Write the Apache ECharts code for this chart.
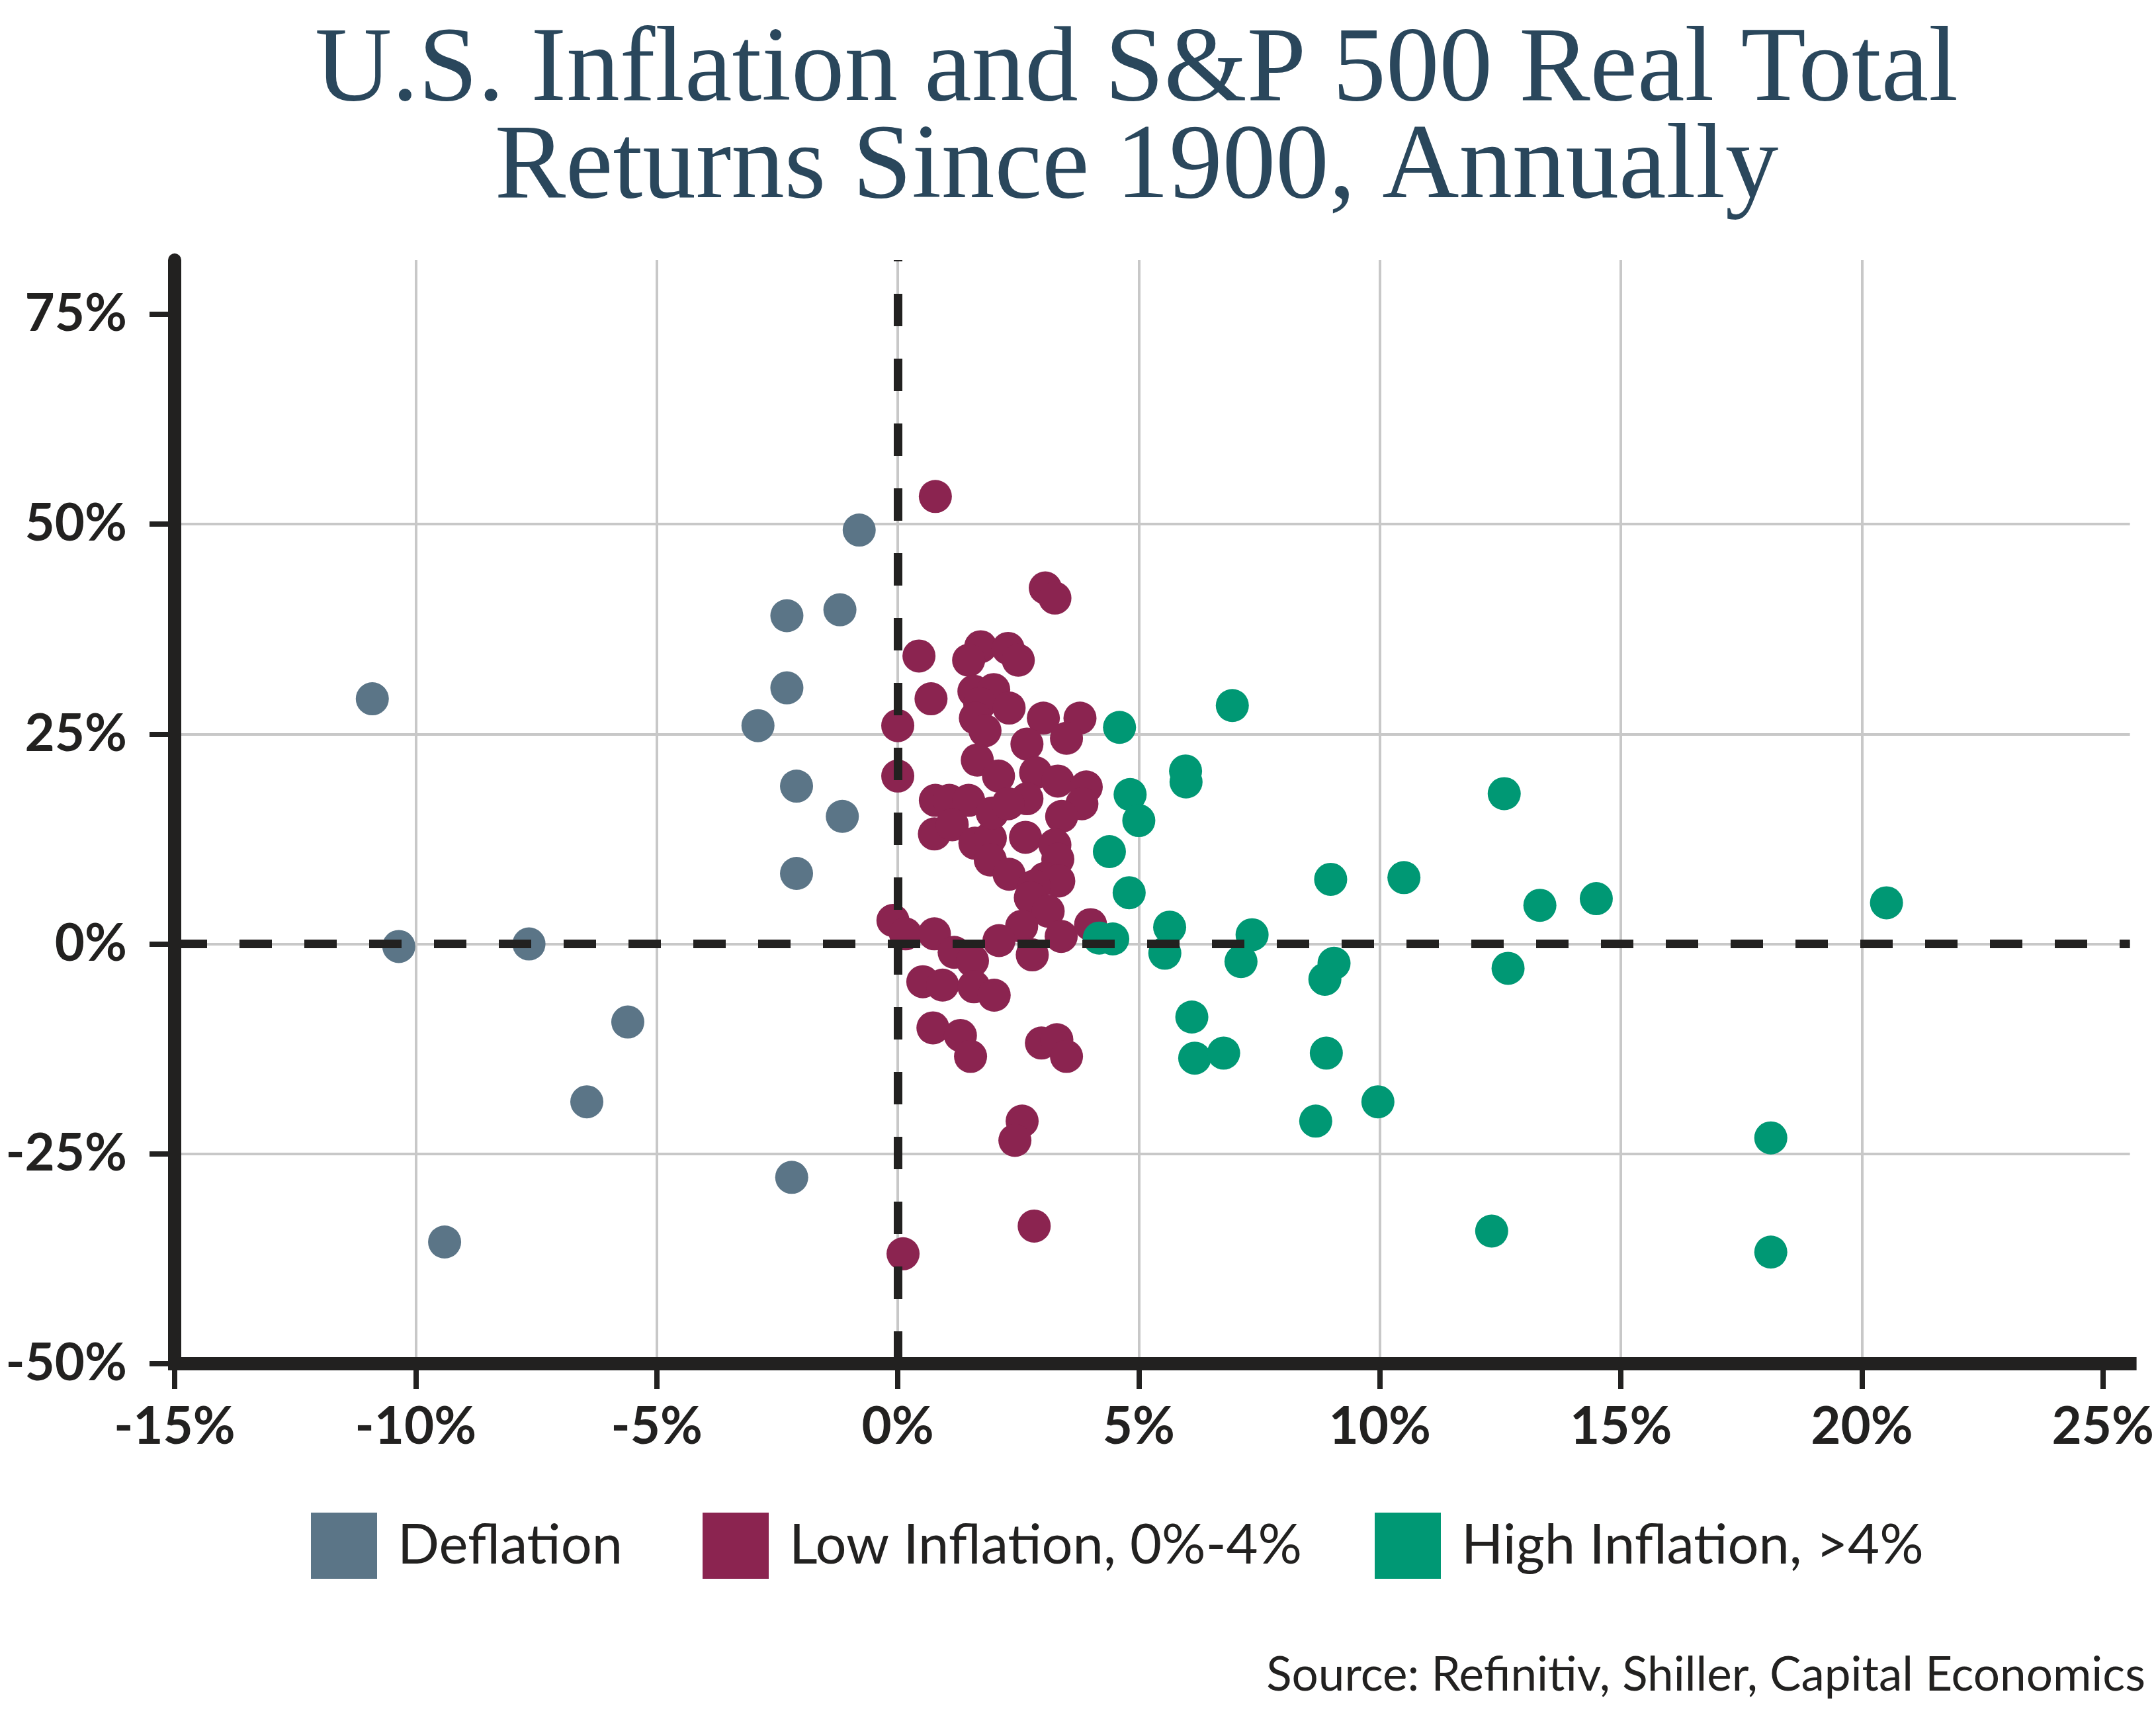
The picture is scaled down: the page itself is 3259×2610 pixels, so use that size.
<!DOCTYPE html>
<html lang="en">
<head>
<meta charset="utf-8" />
<title>U.S. Inflation and S&amp;P 500 Real Total Returns</title>
<script src="https://cdn.jsdelivr.net/npm/echarts@6/dist/echarts.min.js"></script>
<style>
  html, body { margin: 0; padding: 0; background: #ffffff; }
  #chart { width: 3259px; height: 2610px; }
</style>
</head>
<body>
<div id="chart"></div>
<script type="text/javascript">
// [inflation %, S&P 500 real total return %]
var deflation = [
  [-10.9, 29.2], [-10.35, -0.3], [-9.4, -35.5], [-7.65, 0.0], [-5.6, -9.3],
  [-6.45, -18.8], [-2.9, 26.0], [-2.3, 39.1], [-2.3, 30.5], [-2.1, 18.8],
  [-2.1, 8.4], [-2.2, -27.8], [-1.2, 39.8], [-1.15, 15.2], [-0.8, 49.3]
];
var lowInflation = [
  [0.78, 53.3], [3.06, 42.4], [3.26, 41.2], [0.44, 34.3], [1.72, 35.4],
  [1.47, 33.8], [2.29, 35.2], [2.5, 33.8], [0.69, 29.2], [1.58, 30.1],
  [1.99, 30.3], [1.7, 28.6], [2.31, 28.1], [1.61, 26.9], [1.81, 25.4],
  [3.02, 26.9], [3.78, 26.9], [3.5, 24.5], [0.0, 26.0], [2.68, 23.8],
  [1.65, 21.9], [2.09, 20.0], [2.86, 20.4], [3.32, 19.4], [3.91, 18.7],
  [3.82, 16.7], [3.4, 15.2], [0.0, 20.0], [0.78, 17.1], [1.07, 17.1],
  [1.47, 17.1], [0.76, 13.1], [1.13, 14.2], [1.6, 12.0], [1.92, 12.6],
  [1.92, 10.0], [1.96, 15.6], [2.68, 17.3], [2.29, 16.7], [2.65, 12.7],
  [3.26, 11.8], [3.32, 10.1], [2.31, 8.3], [3.05, 7.8], [3.34, 7.5],
  [2.83, 6.9], [2.75, 5.5], [3.12, 3.9], [2.57, 2.1], [2.1, 0.4],
  [2.79, -1.3], [3.39, 0.9], [4.0, 2.3], [-0.1, 2.8], [0.16, 1.2],
  [0.76, 1.2], [1.17, -1.0], [1.55, -2.0], [0.52, -4.5], [0.93, -4.9],
  [1.58, -5.1], [2.0, -6.1], [0.73, -10.0], [1.3, -10.9], [1.51, -13.4],
  [2.98, -11.8], [3.3, -11.4], [3.5, -13.4], [2.58, -21.1], [2.43, -23.4],
  [2.83, -33.6], [0.11, -36.9]
];
var highInflation = [
  [6.94, 28.4], [4.6, 25.8], [5.97, 20.6], [5.98, 19.3], [4.82, 17.8],
  [5.0, 14.7], [4.39, 11.0], [4.8, 6.1], [5.64, 2.0], [5.54, -1.1],
  [4.18, 0.7], [4.46, 0.6], [7.35, 1.1], [7.12, -2.1], [6.1, -8.7],
  [6.16, -13.6], [6.76, -13.0], [8.98, 7.7], [9.05, -2.3], [8.86, -4.2],
  [8.89, -13.0], [10.5, 7.9], [12.58, 17.9], [13.32, 4.6], [14.49, 5.4],
  [20.51, 4.9], [12.66, -2.9], [9.96, -18.8], [8.67, -21.1], [12.32, -34.2],
  [18.11, -23.1], [18.11, -36.7]
];
var seriesNames = ['Deflation', 'Low Inflation, 0%-4%', 'High Inflation, >4%'];
var xTicks = [-15, -10, -5, 0, 5, 10, 15, 20, 25];
var yTicks = [-50, -25, 0, 25, 50, 75];

var colors = ['#5b7587', '#8b2450', '#009874'];
var ink = '#222120';
var legendLeft = [470, 1062, 2078];

var chart = echarts.init(document.getElementById('chart'));

var axisCommon = function (ticks, margin) {
  return {
    type: 'value',
    axisLine: { show: true, onZero: false, lineStyle: { color: ink, width: 20 } },
    axisTick: { show: true, length: 38, customValues: ticks, lineStyle: { color: ink, width: 8 } },
    axisLabel: {
      customValues: ticks,
      formatter: '{value}%',
      margin: margin,
      color: ink,
      fontFamily: 'Lato',
      fontWeight: 'bold',
      fontSize: 78
    },
    splitLine: { show: true, showMinLine: false, showMaxLine: false, lineStyle: { color: '#c8c8c8', width: 4 } }
  };
};

var xAxis = axisCommon(xTicks, 57);
xAxis.min = -15; xAxis.max = 25.56; xAxis.interval = 5;
xAxis.axisLine.lineStyle.cap = 'square';
var yAxis = axisCommon(yTicks, 72);
yAxis.min = -50; yAxis.max = 81.46; yAxis.interval = 25;

var data = [deflation, lowInflation, highInflation];

option = {
  animation: false,
  backgroundColor: '#ffffff',
  title: [
    {
      text: 'U.S. Inflation and S&P 500 Real Total\nReturns Since 1900, Annually',
      left: 1713,
      top: 30,
      textAlign: 'center',
      textStyle: { fontFamily: 'Liberation Serif', fontWeight: 'normal', fontSize: 161, lineHeight: 147, color: '#2a475c' }
    },
    {
      text: 'Source: Refinitiv, Shiller, Capital Economics',
      right: 11,
      top: 2492,
      textStyle: { fontFamily: 'Lato', fontWeight: 'normal', fontSize: 71, color: ink }
    }
  ],
  legend: seriesNames.map(function (n, i) {
    return {
      data: [n],
      left: legendLeft[i],
      top: 2286,
      padding: 0,
      icon: 'rect',
      itemWidth: 100,
      itemHeight: 100,
      selectedMode: false,
      textStyle: { fontFamily: 'Lato', fontSize: 83, color: ink, padding: [0, 0, 0, 26] }
    };
  }),
  grid: { left: 264, right: 38, top: 393, bottom: 549 },
  xAxis: xAxis,
  yAxis: yAxis,
  series: seriesNames.map(function (n, i) {
    var s = {
      name: n,
      type: 'scatter',
      symbolSize: 50,
      itemStyle: { color: colors[i], opacity: 1 },
      data: data[i]
    };
    if (i === 0) {
      s.markLine = {
        silent: true,
        symbol: 'none',
        z: 5,
        label: { show: false },
        lineStyle: { color: ink, width: 13, type: [49, 49] },
        data: [{ xAxis: 0 }, { yAxis: 0 }]
      };
    }
    return s;
  })
};

chart.setOption(option);
</script>
</body>
</html>
